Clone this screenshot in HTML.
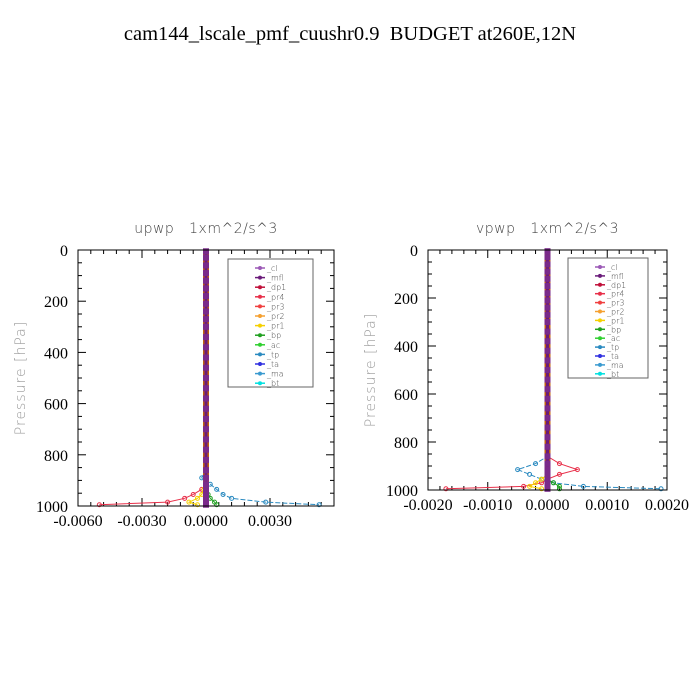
<!DOCTYPE html>
<html><head><meta charset="utf-8"><style>
html,body{margin:0;padding:0;background:#fff;width:700px;height:700px;overflow:hidden}
svg text{font-family:"Liberation Serif",serif;white-space:pre}
.sans{font-family:"DejaVu Sans","Liberation Sans",sans-serif;font-weight:200}
</style></head><body>
<svg id="fig" width="700" height="700" viewBox="0 0 700 700" xmlns="http://www.w3.org/2000/svg">
<text x="350" y="40" font-size="20.5" text-anchor="middle" xml:space="preserve">cam144_lscale_pmf_cuushr0.9  BUDGET at260E,12N</text>
</svg>
<script>
const levels = [5,30,60,90,120,150,180,210,240,270,300,340,380,420,460,500,540,580,620,660,700,740,780,820,860,890,915,935,955,970,985,995];
const legendNames = ["_cl","_mfl","_dp1","_pr4","_pr3","_pr2","_pr1","_bp","_ac","_tp","_ta","_ma","_bt"];
const yTicks = [0,200,400,600,800,1000];
const leftXTicks = [-0.006,-0.003,0,0.003];
const leftXTickLabels = ["-0.0060","-0.0030","0.0000","0.0030"];
const rightXTicks = [-0.002,-0.001,0,0.001,0.002];
const rightXTickLabels = ["-0.0020","-0.0010","0.0000","0.0010","0.0020"];
const leftPr4 = [0,0,0,0,0,0,0,0,0,0,0,0,0,0,0,0,0,0,0,0,0,0,0,0,0,0,0,-0.0002,-0.0006,-0.001,-0.0018,-0.005];
const leftTp  = [0,0,0,0,0,0,0,0,0,0,0,0,0,0,0,0,0,0,0,0,0,0,0,0,0,-0.0002,0.0002,0.0005,0.0008,0.0012,0.0028,0.0053];
const leftPr1 = [0,0,0,0,0,0,0,0,0,0,0,0,0,0,0,0,0,0,0,0,0,0,0,0,0,0,0,-0.0001,-0.0002,-0.0004,-0.0008,-0.0004];
const leftBp  = [0,0,0,0,0,0,0,0,0,0,0,0,0,0,0,0,0,0,0,0,0,0,0,0,0,0,0,0,0.0001,0.0002,0.0004,0.0005];
const rightPr4 = [0,0,0,0,0,0,0,0,0,0,0,0,0,0,0,0,0,0,0,0,0,0,0,0,0,0.0002,0.0005,0.0002,0,-0.0001,-0.0004,-0.0017];
const rightTp  = [0,0,0,0,0,0,0,0,0,0,0,0,0,0,0,0,0,0,0,0,0,0,0,0,0,-0.0002,-0.0005,-0.0003,-0.0001,0.0001,0.0006,0.0019];
const rightPr1 = [0,0,0,0,0,0,0,0,0,0,0,0,0,0,0,0,0,0,0,0,0,0,0,0,0,0,0,0,-0.0001,-0.0002,-0.0003,-0.0001];
const rightBp  = [0,0,0,0,0,0,0,0,0,0,0,0,0,0,0,0,0,0,0,0,0,0,0,0,0,0,0,0,0,0.0001,0.0002,0.0002];
const zeroSeries = [0,0,0,0,0,0,0,0,0,0,0,0,0,0,0,0,0,0,0,0,0,0,0,0,0,0,0,0,0,0,0,0];

const NS="http://www.w3.org/2000/svg";
const fig=document.getElementById('fig');
const colors={"_cl":"#9b59b6","_mfl":"#6a1b7a","_dp1":"#c0103a","_pr4":"#e8304a","_pr3":"#f04040","_pr2":"#f5a030","_pr1":"#f5d000","_bp":"#20a020","_ac":"#30d030","_tp":"#2a8ac0","_ta":"#3030e0","_ma":"#3a9ad0","_bt":"#00e0e0"};
function mk(tag,attrs,parent){const e=document.createElementNS(NS,tag);for(const k in attrs)e.setAttribute(k,attrs[k]);(parent||fig).appendChild(e);return e;}

function panel(p){
  const g=mk('g',{});
  
  
  const sx=v=>p.x0+(v-p.xmin)/(p.xmax-p.xmin)*(p.x1-p.x0);
  const sy=v=>p.y0+v/1000*(p.y1-p.y0);
  const t=mk('text',{x:(p.x0+p.x1)/2,y:p.y0-17,'font-size':14,'text-anchor':'middle',fill:'#444',class:'sans','letter-spacing':'0.5'},g);
  t.textContent=p.title;
  
  
  const yl=mk('text',{x:0,y:0,'font-size':14,'text-anchor':'middle',fill:'#999',class:'sans',transform:`translate(${p.x0-53},${(p.y0+p.y1)/2}) rotate(-90)`,'letter-spacing':'1'},g);
  yl.textContent='Pressure [hPa]';
  
  
  for(let v=0;v<=1000;v+=50){
    const y=sy(v),len=(v%200===0)?8:4;
    mk('line',{x1:p.x0,x2:p.x0+len,y1:y,y2:y,stroke:'#000'},g);
    mk('line',{x1:p.x1,x2:p.x1-len,y1:y,y2:y,stroke:'#000'},g);
  }
  yTicks.forEach(v=>{
    const tt=mk('text',{x:p.x0-10,y:sy(v)+6,'font-size':16,'text-anchor':'end'},g);
    tt.textContent=String(v);
    
    
  });
  const step=(p.xTicks[1]-p.xTicks[0])/5;
  for(let v=p.xmin;v<=p.xmax+1e-12;v+=step){
    const x=sx(v);
    const major=p.xTicks.some(m=>Math.abs(m-v)<step/10);
    const len=major?8:4;
    mk('line',{x1:x,x2:x,y1:p.y1,y2:p.y1-len,stroke:'#000'},g);
    mk('line',{x1:x,x2:x,y1:p.y0,y2:p.y0+len,stroke:'#000'},g);
  }
  p.xTicks.forEach((v,i)=>{
    const tt=mk('text',{x:sx(v),y:p.y1+20,'font-size':16,'text-anchor':'middle'},g);
    tt.textContent=p.xLabels[i];
    
    
  });
  p.series.forEach(s=>{
    const pts=levels.map((l,i)=>sx(s.vals[i])+','+sy(l)).join(' ');
    const pl=mk('polyline',{points:pts,fill:'none',stroke:colors[s.key],'stroke-width':1,'stroke-dasharray':s.dash||''},g);
    
    
    levels.forEach((l,i)=>{ if(s.vals[i]!==0) mk('circle',{cx:sx(s.vals[i]),cy:sy(l),r:2,fill:'none',stroke:colors[s.key]},g);});
  });
  const zp=levels.map((l,i)=>sx(zeroSeries[i])+','+sy(l)).join(' ');
  const zc=mk('polyline',{points:zp,fill:'none',stroke:'#c06010','stroke-width':6},g);
  
  
  const zl=mk('polyline',{points:zp,fill:'none',stroke:'#6a1b7a','stroke-width':3},g);
  
  
  levels.forEach((l,i)=>mk('rect',{x:sx(zeroSeries[i])-3,y:sy(l)-3,width:6,height:6,fill:'#7a2a8a'},g));
  const fr=mk('rect',{x:p.x0,y:p.y0,width:p.x1-p.x0,height:p.y1-p.y0,fill:'none',stroke:'#000','stroke-width':1},g);
  
  
  const lg=mk('g',{},g);
  
  
  mk('rect',{x:p.lx,y:p.ly,width:p.lw,height:p.lh,fill:'#fff',stroke:'#666'},lg);
  legendNames.forEach((n,i)=>{
    const y=p.ly+9+i*p.lstep;
    const e=mk('g',{},lg);
    
    
    mk('line',{x1:p.lx+27,x2:p.lx+37,y1:y,y2:y,stroke:colors[n],'stroke-width':1.5},e);
    mk('circle',{cx:p.lx+32,cy:y,r:2,fill:colors[n]},e);
    const tx=mk('text',{x:p.lx+39,y:y+3,'font-size':8,fill:'#444',class:'sans'},e);
    tx.textContent=n;
  });
}
panel({name:'upwp',title:'upwp   1xm^2/s^3',x0:78,x1:334,y0:250,y1:506,xmin:-0.006,xmax:0.006,
  xTicks:leftXTicks,xLabels:leftXTickLabels,lx:228,ly:259,lw:85,lh:128,lstep:9.6,
  series:[{key:'_pr4',vals:leftPr4},{key:'_tp',vals:leftTp,dash:'5,2'},{key:'_pr1',vals:leftPr1},{key:'_bp',vals:leftBp}]});
panel({name:'vpwp',title:'vpwp   1xm^2/s^3',x0:428,x1:667,y0:250,y1:490,xmin:-0.002,xmax:0.002,
  xTicks:rightXTicks,xLabels:rightXTickLabels,lx:568,ly:258,lw:80,lh:120,lstep:8.9,
  series:[{key:'_pr4',vals:rightPr4},{key:'_tp',vals:rightTp,dash:'5,2'},{key:'_pr1',vals:rightPr1},{key:'_bp',vals:rightBp}]});
</script>
</body></html>
